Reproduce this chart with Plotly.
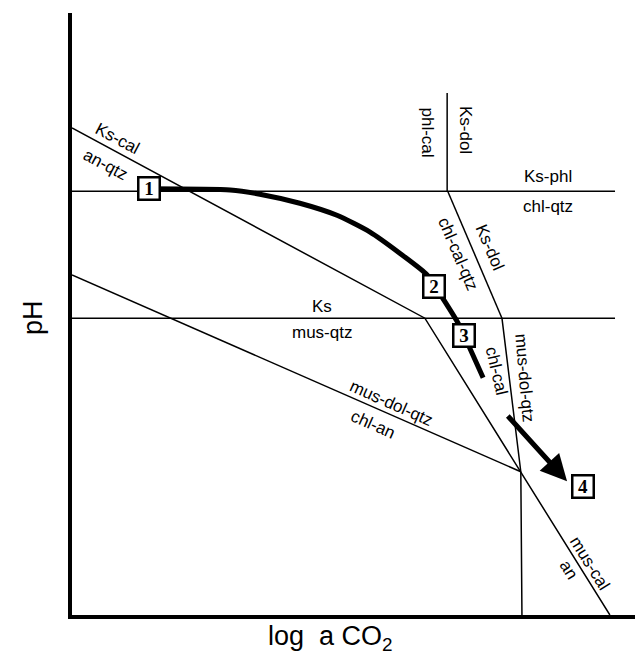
import plotly.graph_objects as go

# ---- boundary lines (x = log a CO2, y = pH, arbitrary schematic units) ----
upper_h_x = [0.0, 9.51]
upper_h_y = [7.04, 7.04]
phl_v_x = [6.57, 6.57]
phl_v_y = [7.04, 8.67]
ksdol_x = [6.58, 7.53]
ksdol_y = [7.04, 4.93]
lower_h_x = [0.0, 9.51]
lower_h_y = [4.93, 4.93]
musdol_x = [7.53, 7.86, 7.88]
musdol_y = [4.93, 2.38, 0.0]
kscal_x = [0.0, 6.18, 9.42]
kscal_y = [8.09, 4.93, 0.0]
chlan_x = [0.0, 7.86]
chlan_y = [5.65, 2.38]

# ---- reaction path ----
path_x = [1.35, 2.77, 3.29, 3.99, 4.64, 5.22, 5.74, 6.22, 6.48, 6.76, 6.94, 7.20]
path_y = [7.08, 7.06, 6.99, 6.84, 6.64, 6.36, 6.01, 5.65, 5.28, 4.85, 4.49, 3.94]
arrow_start = (7.58, 3.36)
arrow_end = (8.67, 2.22)

# ---- numbered boxes ----
box_labels = ["1", "2", "3", "4"]
box_x = [1.35, 6.34, 6.87, 8.95]
box_y = [7.08, 5.45, 4.65, 2.13]

# ---- field labels ----
lab_text = ["Ks-cal", "an-qtz", "Ks-dol", "phl-cal", "Ks-phl", "chl-qtz",
            "Ks-dol", "chl-cal-qtz", "Ks", "mus-qtz", "mus-dol-qtz", "chl-an",
            "chl-cal", "mus-dol-qtz", "mus-cal", "an"]
lab_x = [0.79, 0.58, 6.88, 6.23, 8.34, 8.34, 7.32, 6.76, 4.38, 4.38, 5.60, 5.27,
         7.44, 7.92, 9.07, 8.69]
lab_y = [7.92, 7.49, 8.06, 8.02, 7.28, 6.78, 6.11, 6.01, 5.12, 4.70, 3.52, 3.17,
         4.05, 3.94, 0.86, 0.75]
lab_angle = [28, 28, 90, 90, 0, 0, 67, 67, 0, 0, 24, 24, 77, 85, 58, 58]

fig = go.Figure()
thin = dict(color="black", width=1.5)
for xs, ys in [(upper_h_x, upper_h_y), (phl_v_x, phl_v_y), (ksdol_x, ksdol_y),
               (lower_h_x, lower_h_y), (musdol_x, musdol_y), (kscal_x, kscal_y),
               (chlan_x, chlan_y)]:
    fig.add_trace(go.Scatter(x=xs, y=ys, mode="lines", line=thin,
                             hoverinfo="skip", showlegend=False))

fig.add_trace(go.Scatter(x=path_x, y=path_y, mode="lines",
                         line=dict(color="black", width=5, shape="spline", smoothing=0.6),
                         hoverinfo="skip", showlegend=False))

fig.add_annotation(x=arrow_end[0], y=arrow_end[1], ax=arrow_start[0], ay=arrow_start[1],
                   xref="x", yref="y", axref="x", ayref="y", showarrow=True,
                   arrowhead=2, arrowwidth=5, arrowsize=1.05, arrowcolor="black", text=" ")

for t, x, y in zip(box_labels, box_x, box_y):
    fig.add_annotation(x=x, y=y, text="<b>" + t + "</b>", showarrow=False,
                       font=dict(family="Liberation Serif", size=19, color="black"),
                       bgcolor="white", bordercolor="black", borderwidth=2.5,
                       borderpad=1, width=17, height=18)

for t, x, y, a in zip(lab_text, lab_x, lab_y, lab_angle):
    fig.add_annotation(x=x, y=y, text=t, showarrow=False, textangle=a,
                       font=dict(family="Liberation Sans", size=17, color="black"))

# axis titles, positions given as window pixels and converted below
fig.add_annotation(x=33, y=318, xref="paper", yref="paper", text="pH", showarrow=False,
                   textangle=-90, xanchor="center", yanchor="middle",
                   font=dict(family="Liberation Sans", size=27, color="black"))
fig.add_annotation(x=330, y=638, xref="paper", yref="paper", text="log  a CO<sub>2</sub>",
                   showarrow=False, xanchor="center", yanchor="middle",
                   font=dict(family="Liberation Sans", size=27, color="black"))

# page body has an 8px margin: size the figure so it fits inside the window
# and the plot area sits at window x 72..643, y 13..615
fig.update_layout(
    width=635, height=653,
    margin=dict(l=64, r=0, t=5, b=46),
    paper_bgcolor="white", plot_bgcolor="white",
    xaxis=dict(range=[0, 10], showgrid=False, zeroline=False, showticklabels=False,
               ticks="", showline=True, linecolor="black", linewidth=3.5),
    yaxis=dict(range=[0, 10], showgrid=False, zeroline=False, showticklabels=False,
               ticks="", showline=True, linecolor="black", linewidth=3.5),
)

for ann in fig.layout.annotations:
    if ann.xref == "paper":
        ann.x = (ann.x - 72) / 571
        ann.y = (615 - ann.y) / 602

fig.write_html("out.html")
